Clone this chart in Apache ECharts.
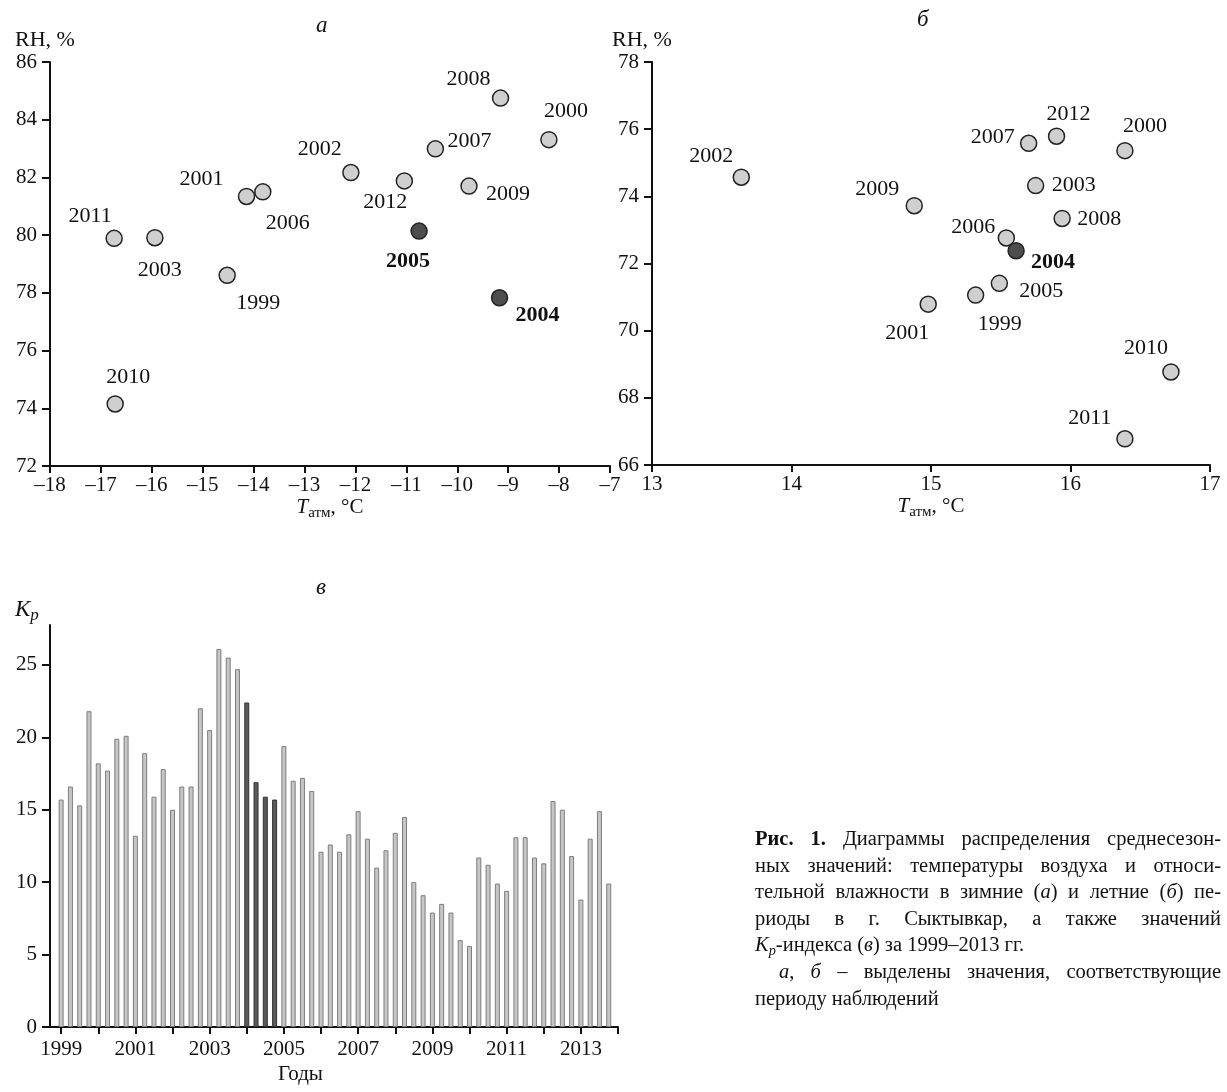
<!DOCTYPE html>
<html>
<head>
<meta charset="utf-8">
<script src="https://cdn.jsdelivr.net/npm/echarts@6/dist/echarts.min.js"></script>
<style>
  body { margin: 0; background: #fff; }
  #main { width: 1227px; height: 1092px; }
  #caption { position: absolute; left: 755px; top: 825px; width: 466px;
    font-family: "Liberation Serif", serif; font-size: 20.5px; line-height: 26.6px; color: #111; }
  #caption div { text-align: justify; text-align-last: justify; white-space: nowrap; }
  #caption div.last { text-align-last: left; }
  #caption sub { font-size: 0.7em; line-height: 0; vertical-align: -0.3em; }
</style>
</head>
<body>
<div id="main"></div>
<div id="caption">
  <div><b>Рис. 1.</b> Диаграммы распределения среднесезон-</div>
  <div>ных значений: температуры воздуха и относи-</div>
  <div>тельной влажности в зимние (<i>а</i>) и летние (<i>б</i>) пе-</div>
  <div>риоды в г. Сыктывкар, а также значений</div>
  <div class="last"><i>K<sub>p</sub></i>-индекса (<i>в</i>) за 1999–2013 гг.</div>
  <div style="padding-left:24px"><i>а</i>, <i>б</i> – выделены значения, соответствующие</div>
  <div class="last">периоду наблюдений</div>
</div>
<script>
// зима (а)
var winterYears = [1999, 2000, 2001, 2002, 2003, 2004, 2005, 2006, 2007, 2008, 2009, 2010, 2011, 2012];
var winterT  = [-14.52, -8.20, -14.14, -12.09, -15.94, -9.17, -10.75, -13.82, -10.43, -9.15, -9.77, -16.72, -16.74, -11.04];
var winterRH = [78.61, 83.31, 81.34, 82.17, 79.91, 77.83, 80.14, 81.50, 82.99, 84.75, 81.70, 74.15, 79.89, 81.88];
var winterMarked = [2004, 2005];

// лето (б)
var summerYears = [1999, 2000, 2001, 2002, 2003, 2004, 2005, 2006, 2007, 2008, 2009, 2010, 2011, 2012];
var summerT  = [15.32, 16.39, 14.98, 13.64, 15.75, 15.61, 15.49, 15.54, 15.70, 15.94, 14.88, 16.72, 16.39, 15.90];
var summerRH = [71.06, 75.36, 70.79, 74.57, 74.32, 72.38, 71.41, 72.76, 75.58, 73.34, 73.72, 68.77, 66.78, 75.79];
var summerMarked = [2004];

// Kp по кварталам (в)
var kpStartYear = 1999;
var kpValues = [
  15.7, 16.6, 15.3, 21.8,
  18.2, 17.7, 19.9, 20.1,
  13.2, 18.9, 15.9, 17.8,
  15.0, 16.6, 16.6, 22.0,
  20.5, 26.1, 25.5, 24.7,
  22.4, 16.9, 15.9, 15.7,
  19.4, 17.0, 17.2, 16.3,
  12.1, 12.6, 12.1, 13.3,
  14.9, 13.0, 11.0, 12.2,
  13.4, 14.5, 10.0, 9.1,
  7.9, 8.5, 7.9, 6.0,
  5.6, 11.7, 11.2, 9.9,
  9.4, 13.1, 13.1, 11.7,
  11.3, 15.6, 15.0, 11.8,
  8.8, 13.0, 14.9, 9.9
];
var kpMarkedYear = 2004;
var kpTickYears = [1999, 2000, 2001, 2002, 2003, 2004, 2005, 2006, 2007, 2008, 2009, 2010, 2011, 2012, 2013, 2014];
var kpLabelYears = [1999, 2001, 2003, 2005, 2007, 2009, 2011, 2013];
var kpTicks = [0, 5, 10, 15, 20, 25];

// сдвиги подписей точек
var winterLabelOffset = {
  2011: [-24, -22], 2003: [5, 32], 1999: [31, 28], 2001: [-45, -17], 2006: [25, 31],
  2002: [-31, -23], 2012: [-19, 21], 2005: [-11, 30], 2007: [34, -8], 2009: [39, 8],
  2008: [-32, -19], 2004: [38, 18], 2000: [17, -28], 2010: [13, -27]
};
var summerLabelOffset = {
  2002: [-30, -21], 2009: [-37, -17], 2001: [-21, 29], 1999: [24, 29], 2005: [42, 8],
  2006: [-33, -11], 2004: [37, 12], 2007: [-36, -6], 2003: [38, 0], 2012: [12, -22],
  2008: [37, 1], 2000: [20, -24], 2010: [-25, -24], 2011: [-35, -21]
};

var FONT = '"Liberation Serif", serif';
var lightFill = '#cfcfcf', darkFill = '#4d4d4d';

function scatterData(years, xs, ys, marked, offsets) {
  var out = [];
  for (var i = 0; i < years.length; i++) {
    var hot = marked.indexOf(years[i]) >= 0;
    out.push({
      value: [xs[i], ys[i]],
      name: String(years[i]),
      itemStyle: { color: hot ? darkFill : lightFill },
      label: { offset: offsets[years[i]], fontWeight: hot ? 'bold' : 'normal' }
    });
  }
  return out;
}

var kpData = [];
for (var i = 0; i < kpValues.length; i++) {
  var yr = kpStartYear + Math.floor(i / 4);
  var hot = yr === kpMarkedYear;
  kpData.push({
    value: [kpStartYear + i * 0.25, kpValues[i]],
    itemStyle: hot ? { color: '#5a5a5a', borderColor: '#333' } : undefined
  });
}

function axisBase(isY) {
  return {
    axisLine: { onZero: false, lineStyle: { color: '#111', width: 2 } },
    axisTick: { length: isY ? 8 : 7, lineStyle: { color: '#111', width: 2 } },
    axisLabel: { color: '#111', fontFamily: FONT, fontSize: 21, margin: isY ? 13 : 9 },
    splitLine: { show: false }
  };
}
function merge(a, b) { for (var k in b) a[k] = b[k]; return a; }

var nameRich = {
  it: { fontFamily: FONT, fontSize: 21, fontStyle: 'italic', color: '#111' },
  sub: { fontFamily: FONT, fontSize: 15, color: '#111', padding: [12, 0, 0, 0] },
  n: { fontFamily: FONT, fontSize: 21, color: '#111' }
};
var tName = '{it|T}{sub|атм}{n|, °C}';

var myChart = echarts.init(document.getElementById('main'));

var option = {
  backgroundColor: '#fff',
  animation: false,
  textStyle: { fontFamily: FONT },
  grid: [
    { left: 50, top: 62, width: 560, height: 404 },
    { left: 652, top: 62, width: 558, height: 403 },
    { left: 50, top: 625, width: 568, height: 402 }
  ],
  xAxis: [
    merge(axisBase(false), {
      gridIndex: 0, type: 'value', min: -18, max: -7, interval: 1,
      name: tName, nameLocation: 'middle', nameGap: 27,
      nameTextStyle: { rich: nameRich },
      axisLabel: { color: '#111', fontFamily: FONT, fontSize: 21, margin: 9,
        formatter: function (v) { return v < 0 ? '\u2013' + Math.abs(v) : String(v); } }
    }),
    merge(axisBase(false), {
      gridIndex: 1, type: 'value', min: 13, max: 17, interval: 1,
      name: tName, nameLocation: 'middle', nameGap: 27,
      nameTextStyle: { rich: nameRich }
    }),
    merge(axisBase(false), {
      gridIndex: 2, type: 'value', min: 1998.7, max: 2014,
      axisTick: { length: 7, lineStyle: { color: '#111', width: 2 }, customValues: kpTickYears },
      axisLabel: { color: '#111', fontFamily: FONT, fontSize: 21, margin: 12, customValues: kpLabelYears,
        formatter: function (v) { return String(v); } }
    })
  ],
  yAxis: [
    merge(axisBase(true), {
      gridIndex: 0, type: 'value', min: 72, max: 86, interval: 2,
      name: 'RH, %', nameLocation: 'end', nameGap: 9,
      nameTextStyle: { color: '#111', fontFamily: FONT, fontSize: 22, padding: [0, 10, 0, 0] }
    }),
    merge(axisBase(true), {
      gridIndex: 1, type: 'value', min: 66, max: 78, interval: 2,
      name: 'RH, %', nameLocation: 'end', nameGap: 9,
      nameTextStyle: { color: '#111', fontFamily: FONT, fontSize: 22, padding: [0, 20, 0, 0] }
    }),
    merge(axisBase(true), {
      gridIndex: 2, type: 'value', min: 0, max: 27.75,
      axisTick: { length: 8, lineStyle: { color: '#111', width: 2 }, customValues: kpTicks },
      axisLabel: { color: '#111', fontFamily: FONT, fontSize: 21, margin: 13, customValues: kpTicks }
    })
  ],
  graphic: [
    { type: 'text', left: 316, top: 14, style: { text: 'а', font: 'italic 23px "Liberation Serif"', fill: '#111' } },
    { type: 'text', left: 917, top: 8, style: { text: 'б', font: 'italic 23px "Liberation Serif"', fill: '#111' } },
    { type: 'text', left: 316, top: 576, style: { text: 'в', font: 'italic 23px "Liberation Serif"', fill: '#111' } },
    { type: 'text', left: 15, top: 598, style: { text: '{it|K}{sb|p}', rich: {
        it: { fontFamily: FONT, fontSize: 23, fontStyle: 'italic', fill: '#111' },
        sb: { fontFamily: FONT, fontSize: 17, fontStyle: 'italic', fill: '#111', padding: [12, 0, 0, 0] }
      } } },
    { type: 'text', left: 278, top: 1064, style: { text: 'Годы', font: '21px "Liberation Serif"', fill: '#111' } }
  ],
  series: [
    {
      type: 'scatter', xAxisIndex: 0, yAxisIndex: 0, symbolSize: 16,
      itemStyle: { borderColor: '#222', borderWidth: 1.5, opacity: 1 },
      label: { show: true, position: 'inside', formatter: '{b}', color: '#111',
        fontFamily: FONT, fontSize: 22 },
      data: scatterData(winterYears, winterT, winterRH, winterMarked, winterLabelOffset)
    },
    {
      type: 'scatter', xAxisIndex: 1, yAxisIndex: 1, symbolSize: 16,
      itemStyle: { borderColor: '#222', borderWidth: 1.5, opacity: 1 },
      label: { show: true, position: 'inside', formatter: '{b}', color: '#111',
        fontFamily: FONT, fontSize: 22 },
      data: scatterData(summerYears, summerT, summerRH, summerMarked, summerLabelOffset)
    },
    {
      type: 'bar', xAxisIndex: 2, yAxisIndex: 2, barWidth: 5,
      itemStyle: { color: '#c6c6c6', borderColor: '#7d7d7d', borderWidth: 1 },
      data: kpData
    }
  ]
};

myChart.setOption(option);
</script>
</body>
</html>
